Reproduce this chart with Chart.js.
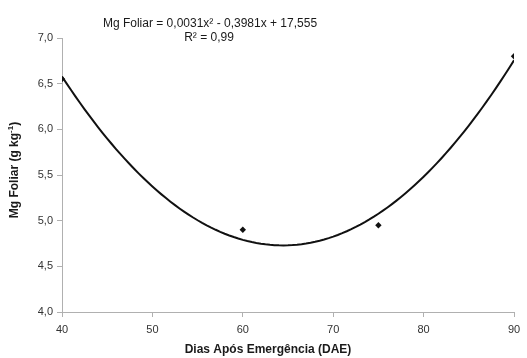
<!DOCTYPE html>
<html>
<head>
<meta charset="utf-8">
<script src="https://cdn.jsdelivr.net/npm/chart.js@4.4.0/dist/chart.umd.min.js"></script>
<style>
html,body{margin:0;padding:0;background:#fff;}
#wrap{width:527px;height:358px;position:relative;}
</style>
</head>
<body>
<div id="wrap"><canvas id="c" width="527" height="358"></canvas></div>
<script>
// ---- data ----
const days = [40, 60, 75, 90];
const mgFoliar = [6.55, 4.90, 4.95, 6.80];
const xTicks = [40, 50, 60, 70, 80, 90];
const yTicks = [4.0, 4.5, 5.0, 5.5, 6.0, 6.5, 7.0];
const equationText = "Mg Foliar = 0,0031x² - 0,3981x + 17,555";
const r2Text = "R² = 0,99";
const xTitle = "Dias Após Emergência (DAE)";

// quadratic least-squares fit of the data (trendline, like the spreadsheet)
function quadFit(xs, ys) {
  let S = [0,0,0,0,0], T = [0,0,0];
  for (let i = 0; i < xs.length; i++) {
    let p = 1;
    for (let k = 0; k < 5; k++) { S[k] += p; if (k < 3) T[k] += p * ys[i]; p *= xs[i]; }
  }
  const M = [[S[0],S[1],S[2],T[0]],[S[1],S[2],S[3],T[1]],[S[2],S[3],S[4],T[2]]];
  for (let i = 0; i < 3; i++) {
    for (let j = i + 1; j < 3; j++) {
      const f = M[j][i] / M[i][i];
      for (let k = i; k < 4; k++) M[j][k] -= f * M[i][k];
    }
  }
  const c = [0,0,0];
  for (let i = 2; i >= 0; i--) {
    let s = M[i][3];
    for (let k = i + 1; k < 3; k++) s -= M[i][k] * c[k];
    c[i] = s / M[i][i];
  }
  return c;
}
const coef = quadFit(days, mgFoliar);
const trend = [];
for (let x = xTicks[0]; x <= xTicks[xTicks.length - 1]; x += 0.5) {
  trend.push({x: x, y: coef[0] + coef[1] * x + coef[2] * x * x});
}

const FONT = "'Liberation Sans', Arial, sans-serif";

const textPlugin = {
  id: 'texts',
  afterDraw(chart) {
    const ctx = chart.ctx;
    const ca = chart.chartArea;
    ctx.save();
    ctx.fillStyle = '#1a1a1a';
    ctx.textAlign = 'center';
    ctx.textBaseline = 'middle';
    ctx.font = "12px " + FONT;
    ctx.fillText(equationText, 210, 24);
    ctx.fillText(r2Text, 209, 38);
    // x title
    ctx.font = "bold 12px " + FONT;
    ctx.fillText(xTitle, 268, 350);
    // y title with superscript
    ctx.translate(15, 170);
    ctx.rotate(-Math.PI / 2);
    const p1 = "Mg Foliar (g kg", sup = "-1", p3 = ")";
    ctx.font = "bold 12px " + FONT;
    const w1 = ctx.measureText(p1).width, w3 = ctx.measureText(p3).width;
    ctx.font = "bold 8px " + FONT;
    const w2 = ctx.measureText(sup).width;
    let x0 = -(w1 + w2 + w3) / 2;
    ctx.textAlign = 'left';
    ctx.font = "bold 12px " + FONT;
    ctx.fillText(p1, x0, 0);
    ctx.font = "bold 8px " + FONT;
    ctx.fillText(sup, x0 + w1, -4);
    ctx.font = "bold 12px " + FONT;
    ctx.fillText(p3, x0 + w1 + w2, 0);
    ctx.restore();
  }
};

new Chart(document.getElementById('c'), {
  type: 'scatter',
  data: {
    datasets: [
      {
        type: 'line',
        data: trend,
        borderColor: '#111',
        borderWidth: 2,
        pointRadius: 0,
        fill: false,
        tension: 0
      },
      {
        data: days.map((d, i) => ({x: d, y: mgFoliar[i]})),
        backgroundColor: '#111',
        borderColor: '#111',
        pointStyle: 'rectRot',
        pointRadius: 3.2,
        borderWidth: 0
      }
    ]
  },
  options: {
    responsive: false,
    animation: false,
    layout: {padding: {left: 0, right: 13, top: 38, bottom: 0}},
    plugins: {legend: {display: false}, tooltip: {enabled: false}},
    scales: {
      x: {
        type: 'linear',
        min: xTicks[0], max: xTicks[xTicks.length - 1],
        afterBuildTicks: s => { s.ticks = xTicks.map(v => ({value: v})); },
        afterFit: s => { s.height = 46; },
        grid: {display: true, drawOnChartArea: false, drawTicks: true, tickLength: 5, color: '#b0b0b0'},
        border: {color: '#b0b0b0', width: 1},
        ticks: {color: '#333', font: {family: FONT, size: 11}, padding: 6, maxRotation: 0}
      },
      y: {
        min: yTicks[0], max: yTicks[yTicks.length - 1],
        afterBuildTicks: s => { s.ticks = yTicks.map(v => ({value: v})); },
        afterFit: s => { s.width = 62; },
        grid: {display: true, drawOnChartArea: false, drawTicks: true, tickLength: 5, color: '#b0b0b0'},
        border: {color: '#b0b0b0', width: 1},
        ticks: {color: '#333', font: {family: FONT, size: 11}, padding: 4,
          callback: v => v.toFixed(1).replace('.', ',')}
      }
    }
  },
  plugins: [textPlugin]
});
</script>
</body>
</html>
